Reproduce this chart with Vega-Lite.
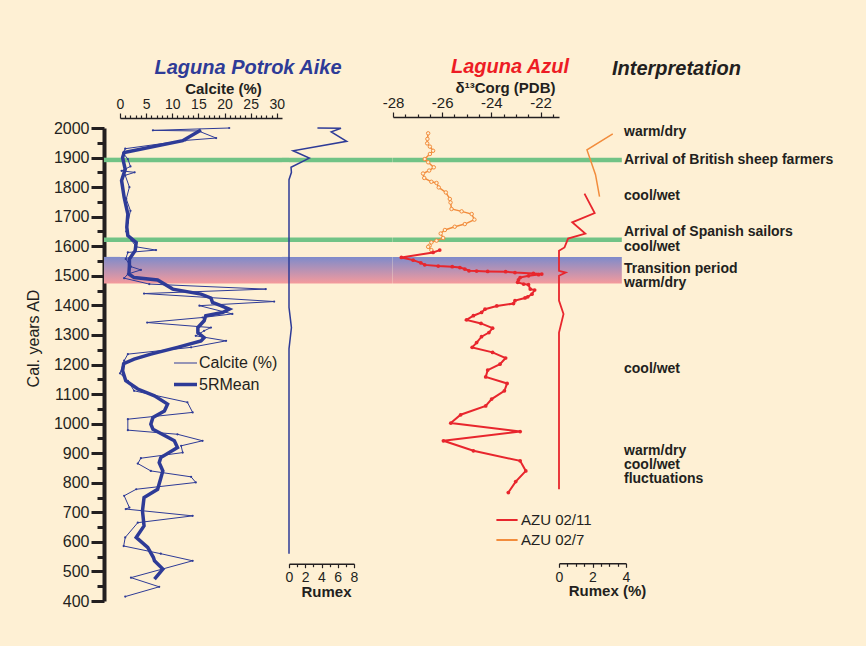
{
 "$schema": "https://vega.github.io/schema/vega-lite/v6.json",
 "background": "#FEF0D4",
 "padding": {"left": 25, "top": 56, "right": 12, "bottom": 44},
 "spacing": 0,
 "bounds": "flush",
 "config": {
  "font": "Liberation Sans",
  "view": {"stroke": null},
  "axis": {"labelColor": "#231F20", "titleColor": "#231F20", "domainColor": "#231F20", "tickColor": "#231F20", "grid": false, "labelFont": "Liberation Sans", "titleFont": "Liberation Sans", "labelOverlap": false},
  "title": {"font": "Liberation Sans", "fontSize": 20, "fontStyle": "italic", "fontWeight": "bold"},
  "legend": {"labelFont": "Liberation Sans"}
 },
 "datasets": {
  "events": [{"year": 1892}, {"year": 1622}],
  "band": [{"top": 1564, "bottom": 1474}],
  "calcite": [
   {"year": 2000, "pct": 20.9}, {"year": 1992, "pct": 6.3}, {"year": 1990, "pct": 15.0}, {"year": 1966, "pct": 18.4}, {"year": 1958, "pct": 12.5},
   {"year": 1930, "pct": 1.0}, {"year": 1915, "pct": 0.6}, {"year": 1895, "pct": 1.5}, {"year": 1870, "pct": 2.0}, {"year": 1855, "pct": 0.3},
   {"year": 1850, "pct": 2.8}, {"year": 1840, "pct": 1.0}, {"year": 1800, "pct": 1.8}, {"year": 1760, "pct": 1.2}, {"year": 1720, "pct": 2.0},
   {"year": 1680, "pct": 1.5}, {"year": 1650, "pct": 1.2}, {"year": 1620, "pct": 2.2}, {"year": 1598, "pct": 3.1}, {"year": 1587, "pct": 6.9},
   {"year": 1579, "pct": 1.5}, {"year": 1557, "pct": 1.1}, {"year": 1531, "pct": 2.1}, {"year": 1520, "pct": 4.0}, {"year": 1506, "pct": 1.5},
   {"year": 1492, "pct": 0.8}, {"year": 1472, "pct": 5.6}, {"year": 1455, "pct": 27.9}, {"year": 1440, "pct": 4.6}, {"year": 1413, "pct": 29.5},
   {"year": 1399, "pct": 15.2}, {"year": 1371, "pct": 21.5}, {"year": 1359, "pct": 15.8}, {"year": 1342, "pct": 5.2}, {"year": 1325, "pct": 17.4},
   {"year": 1314, "pct": 16.1}, {"year": 1297, "pct": 14.5}, {"year": 1280, "pct": 20.3}, {"year": 1258, "pct": 13.6}, {"year": 1235, "pct": 1.5},
   {"year": 1213, "pct": 0.8}, {"year": 1170, "pct": 0.0}, {"year": 1145, "pct": 1.5}, {"year": 1111, "pct": 2.7}, {"year": 1072, "pct": 12.9},
   {"year": 1038, "pct": 13.9}, {"year": 1015, "pct": 1.5}, {"year": 978, "pct": 1.5}, {"year": 964, "pct": 11.0}, {"year": 942, "pct": 15.8},
   {"year": 925, "pct": 11.7}, {"year": 902, "pct": 12.0}, {"year": 883, "pct": 4.0}, {"year": 865, "pct": 3.4}, {"year": 840, "pct": 5.9},
   {"year": 820, "pct": 13.6}, {"year": 801, "pct": 14.5}, {"year": 778, "pct": 3.1}, {"year": 756, "pct": 0.8}, {"year": 716, "pct": 1.8},
   {"year": 711, "pct": 1.1}, {"year": 688, "pct": 13.9}, {"year": 665, "pct": 3.4}, {"year": 615, "pct": 1.0}, {"year": 586, "pct": 0.7},
   {"year": 560, "pct": 7.8}, {"year": 536, "pct": 13.9}, {"year": 479, "pct": 2.1}, {"year": 448, "pct": 7.5}, {"year": 415, "pct": 1.0}
  ],
  "mean": [
   {"year": 1993, "pct": 15.5}, {"year": 1957, "pct": 12.0}, {"year": 1917, "pct": 0.8}, {"year": 1900, "pct": 0.5}, {"year": 1860, "pct": 1.0},
   {"year": 1822, "pct": 0.3}, {"year": 1765, "pct": 0.8}, {"year": 1709, "pct": 1.5}, {"year": 1664, "pct": 1.3}, {"year": 1636, "pct": 1.5},
   {"year": 1613, "pct": 3.1}, {"year": 1585, "pct": 2.9}, {"year": 1557, "pct": 1.8}, {"year": 1534, "pct": 1.8}, {"year": 1506, "pct": 1.7},
   {"year": 1494, "pct": 2.7}, {"year": 1486, "pct": 7.2}, {"year": 1455, "pct": 10.1}, {"year": 1438, "pct": 15.5}, {"year": 1425, "pct": 17.4},
   {"year": 1410, "pct": 17.7}, {"year": 1399, "pct": 19.3}, {"year": 1387, "pct": 20.9}, {"year": 1376, "pct": 19.6}, {"year": 1365, "pct": 16.4},
   {"year": 1348, "pct": 16.1}, {"year": 1325, "pct": 14.9}, {"year": 1308, "pct": 14.9}, {"year": 1291, "pct": 16.1}, {"year": 1280, "pct": 15.5},
   {"year": 1258, "pct": 11.0}, {"year": 1235, "pct": 5.9}, {"year": 1218, "pct": 2.7}, {"year": 1203, "pct": 0.7}, {"year": 1179, "pct": 0.5},
   {"year": 1145, "pct": 1.1}, {"year": 1117, "pct": 3.4}, {"year": 1094, "pct": 6.6}, {"year": 1066, "pct": 9.1}, {"year": 1043, "pct": 8.5},
   {"year": 1021, "pct": 6.3}, {"year": 998, "pct": 5.9}, {"year": 981, "pct": 6.3}, {"year": 942, "pct": 10.4}, {"year": 919, "pct": 11.0},
   {"year": 885, "pct": 7.8}, {"year": 868, "pct": 7.5}, {"year": 840, "pct": 8.2}, {"year": 778, "pct": 7.2}, {"year": 750, "pct": 4.6},
   {"year": 705, "pct": 4.3}, {"year": 654, "pct": 4.6}, {"year": 615, "pct": 3.1}, {"year": 581, "pct": 5.3}, {"year": 547, "pct": 6.4},
   {"year": 536, "pct": 6.6}, {"year": 508, "pct": 8.2}, {"year": 474, "pct": 6.6}
  ],
  "rumex": [
   {"year": 2000, "v": 3.5}, {"year": 1999, "v": 6.4}, {"year": 1987, "v": 5.2}, {"year": 1955, "v": 7.1}, {"year": 1923, "v": 0.5},
   {"year": 1898, "v": 2.5}, {"year": 1867, "v": 0.25}, {"year": 1850, "v": 0.3}, {"year": 1825, "v": 0}, {"year": 1393, "v": 0},
   {"year": 1325, "v": 0.3}, {"year": 1253, "v": 0}, {"year": 560, "v": 0}
  ],
  "azu11": [
   {"year": 1587, "d": -26.10}, {"year": 1579, "d": -26.37}, {"year": 1562, "d": -27.66}, {"year": 1553, "d": -27.18}, {"year": 1544, "d": -26.87},
   {"year": 1537, "d": -26.71}, {"year": 1533, "d": -26.16}, {"year": 1531, "d": -25.59}, {"year": 1528, "d": -25.28}, {"year": 1523, "d": -25.08},
   {"year": 1517, "d": -24.91}, {"year": 1516, "d": -24.60}, {"year": 1515, "d": -24.15}, {"year": 1514, "d": -23.42}, {"year": 1511, "d": -23.04},
   {"year": 1508, "d": -22.29}, {"year": 1506, "d": -21.95}, {"year": 1504, "d": -22.08}, {"year": 1500, "d": -22.49}, {"year": 1494, "d": -22.83},
   {"year": 1486, "d": -22.90}, {"year": 1478, "d": -22.93}, {"year": 1472, "d": -22.69}, {"year": 1470, "d": -22.49}, {"year": 1455, "d": -22.42},
   {"year": 1452, "d": -22.24}, {"year": 1438, "d": -22.35}, {"year": 1429, "d": -22.52}, {"year": 1425, "d": -22.63}, {"year": 1416, "d": -23.04},
   {"year": 1406, "d": -23.10}, {"year": 1398, "d": -23.78}, {"year": 1387, "d": -24.26}, {"year": 1376, "d": -24.40}, {"year": 1365, "d": -24.73},
   {"year": 1351, "d": -25.01}, {"year": 1339, "d": -24.42}, {"year": 1323, "d": -23.95}, {"year": 1308, "d": -24.10}, {"year": 1294, "d": -24.40},
   {"year": 1274, "d": -24.60}, {"year": 1258, "d": -24.78}, {"year": 1241, "d": -23.95}, {"year": 1222, "d": -23.42}, {"year": 1201, "d": -23.65},
   {"year": 1181, "d": -24.15}, {"year": 1158, "d": -24.23}, {"year": 1136, "d": -23.36}, {"year": 1111, "d": -23.47}, {"year": 1083, "d": -23.99},
   {"year": 1060, "d": -24.23}, {"year": 1030, "d": -25.25}, {"year": 1002, "d": -25.65}, {"year": 973, "d": -22.83}, {"year": 942, "d": -25.95},
   {"year": 908, "d": -24.73}, {"year": 874, "d": -22.83}, {"year": 840, "d": -22.60}, {"year": 804, "d": -23.01}, {"year": 767, "d": -23.31}
  ],
  "azu7": [
   {"year": 1982, "d": -26.57}, {"year": 1963, "d": -26.60}, {"year": 1948, "d": -26.61}, {"year": 1937, "d": -26.50}, {"year": 1923, "d": -26.37},
   {"year": 1912, "d": -26.50}, {"year": 1895, "d": -26.71}, {"year": 1884, "d": -26.57}, {"year": 1867, "d": -26.34}, {"year": 1856, "d": -26.53},
   {"year": 1846, "d": -26.78}, {"year": 1831, "d": -26.73}, {"year": 1818, "d": -26.44}, {"year": 1814, "d": -26.23}, {"year": 1799, "d": -26.14},
   {"year": 1782, "d": -25.85}, {"year": 1760, "d": -25.69}, {"year": 1748, "d": -25.66}, {"year": 1726, "d": -25.62}, {"year": 1718, "d": -25.21},
   {"year": 1709, "d": -24.80}, {"year": 1690, "d": -24.69}, {"year": 1675, "d": -25.08}, {"year": 1666, "d": -25.49}, {"year": 1655, "d": -25.89},
   {"year": 1643, "d": -26.06}, {"year": 1628, "d": -25.96}, {"year": 1619, "d": -26.23}, {"year": 1613, "d": -26.44}, {"year": 1602, "d": -26.51},
   {"year": 1598, "d": -26.57}, {"year": 1587, "d": -26.44}
  ],
  "rx7": [
   {"year": 1980, "v": 3.21}, {"year": 1926, "v": 1.67}, {"year": 1842, "v": 2.18}, {"year": 1768, "v": 2.42}
  ],
  "rx11": [
   {"year": 1778, "v": 1.52}, {"year": 1712, "v": 2.13}, {"year": 1681, "v": 0.79}, {"year": 1643, "v": 1.57}, {"year": 1626, "v": 0.54},
   {"year": 1596, "v": 0.33}, {"year": 1585, "v": 0.0}, {"year": 1517, "v": 0.0}, {"year": 1511, "v": 0.4}, {"year": 1500, "v": 0.0},
   {"year": 1416, "v": 0.0}, {"year": 1371, "v": 0.27}, {"year": 1308, "v": 0.0}, {"year": 778, "v": 0.0}
  ],
  "interp": [
   {"year": 1985, "label": "warm/dry"}, {"year": 1892, "label": "Arrival of British sheep farmers"}, {"year": 1771, "label": "cool/wet"},
   {"year": 1647, "label": "Arrival of Spanish sailors"}, {"year": 1599, "label": "cool/wet"}, {"year": 1523, "label": "Transition period"},
   {"year": 1474, "label": "warm/dry"}, {"year": 1186, "label": "cool/wet"}, {"year": 908, "label": "warm/dry"},
   {"year": 861, "label": "cool/wet"}, {"year": 812, "label": "fluctuations"}
  ]
 },
 "hconcat": [
  {
   "width": 16, "height": 473,
   "layer": [
    {"data": {"name": "band"}, "mark": {"type": "rect", "color": {"gradient": "linear", "x1": 0, "y1": 0, "x2": 0, "y2": 1, "stops": [{"offset": 0, "color": "#7E8BCB"}, {"offset": 1, "color": "#F59A9C"}]}},
     "encoding": {
      "y": {"field": "top", "type": "quantitative", "scale": {"domain": [400, 2000], "nice": false, "zero": false},
       "axis": {"orient": "left", "values": [400,450,500,550,600,650,700,750,800,850,900,950,1000,1050,1100,1150,1200,1250,1300,1350,1400,1450,1500,1550,1600,1650,1700,1750,1800,1850,1900,1950,2000],
        "labelExpr": "datum.value % 100 === 0 ? '' + datum.value : ''",
        "tickSize": {"condition": {"test": "datum.value % 100 === 0", "value": 13}, "value": 7},
        "tickWidth": 3, "domainWidth": 4, "labelFontSize": 16, "labelPadding": 2, "labelOverlap": false, "labelFlush": false, "labelBaseline": "middle",
        "title": "Cal. years AD", "titleFontSize": 16, "titleFontWeight": "normal", "titleX": -70.5, "titleY": 210, "titleBaseline": "middle", "titleAngle": -90}},
      "y2": {"field": "bottom"}
     }},
    {"data": {"name": "events"}, "mark": {"type": "rule", "color": "#71C386", "strokeWidth": 4.5},
     "encoding": {"y": {"field": "year", "type": "quantitative", "scale": {"domain": [400, 2000], "nice": false, "zero": false},
       "axis": {"orient": "left", "values": [400,450,500,550,600,650,700,750,800,850,900,950,1000,1050,1100,1150,1200,1250,1300,1350,1400,1450,1500,1550,1600,1650,1700,1750,1800,1850,1900,1950,2000],
        "labelExpr": "datum.value % 100 === 0 ? '' + datum.value : ''",
        "tickSize": {"condition": {"test": "datum.value % 100 === 0", "value": 13}, "value": 7},
        "tickWidth": 3, "domainWidth": 4, "labelFontSize": 16, "labelPadding": 2, "labelOverlap": false, "labelFlush": false, "labelBaseline": "middle",
        "title": "Cal. years AD", "titleFontSize": 16, "titleFontWeight": "normal", "titleX": -70.5, "titleY": 210, "titleBaseline": "middle", "titleAngle": -90}}}}
   ]
  },
  {
   "width": 162, "height": 473,
   "title": {"text": "Laguna Potrok Aike", "color": "#2E3B97", "anchor": "middle", "dx": 47, "offset": 3.5},
   "layer": [
    {"data": {"name": "band"}, "mark": {"type": "rect", "color": {"gradient": "linear", "x1": 0, "y1": 0, "x2": 0, "y2": 1, "stops": [{"offset": 0, "color": "#7E8BCB"}, {"offset": 1, "color": "#F59A9C"}]}},
     "encoding": {"y": {"field": "top", "type": "quantitative", "scale": {"domain": [400, 2000], "nice": false, "zero": false}, "axis": null}, "y2": {"field": "bottom"}}},
    {"data": {"name": "events"}, "mark": {"type": "rule", "color": "#71C386", "strokeWidth": 4.5},
     "encoding": {"y": {"field": "year", "type": "quantitative", "scale": {"domain": [400, 2000], "nice": false, "zero": false}, "axis": null}}},
    {"data": {"name": "calcite"}, "mark": {"type": "line", "color": "#2E3B97", "point": {"filled": true, "size": 5, "color": "#2E3B97"}},
     "encoding": {
      "x": {"field": "pct", "type": "quantitative", "scale": {"domain": [0, 31], "nice": false, "zero": false},
       "axis": {"orient": "top", "offset": 10, "values": [0,1,2,3,4,5,6,7,8,9,10,11,12,13,14,15,16,17,18,19,20,21,22,23,24,25,26,27,28,29,30],
        "labelExpr": "datum.value % 5 === 0 ? '' + datum.value : ''",
        "tickSize": {"condition": {"test": "datum.value % 5 === 0", "value": 5}, "value": 3},
        "tickWidth": 1.2, "domainWidth": 1.5, "labelFontSize": 14, "labelPadding": 2, "labelOverlap": false, "labelFlush": false,
        "title": "Calcite (%)", "titleFontSize": 15, "titleFontWeight": "bold", "titleX": 103, "titleY": -25, "titleBaseline": "alphabetic"}},
      "y": {"field": "year", "type": "quantitative", "scale": {"domain": [400, 2000], "nice": false, "zero": false}, "axis": null},
      "order": {"field": "year", "sort": "descending"},
      "strokeWidth": {"datum": "Calcite (%)", "type": "nominal", "scale": {"domain": ["Calcite (%)", "5RMean"], "range": [1, 3.5]},
       "legend": {"orient": "none", "legendX": 68, "legendY": 223, "title": null, "symbolType": "stroke", "symbolStrokeColor": "#2E3B97", "symbolSize": 529, "labelFontSize": 16, "labelColor": "#231F20", "rowPadding": -6, "padding": 0, "labelOffset": 0,
        "encode": {"symbols": {"update": {"stroke": {"value": "#2E3B97"}, "shape": {"value": "stroke"}, "opacity": {"value": 1}}}}}}
     }},
    {"data": {"name": "mean"}, "mark": {"type": "line", "color": "#2E3B97"},
     "encoding": {
      "x": {"field": "pct", "type": "quantitative", "scale": {"domain": [0, 31], "nice": false, "zero": false},
       "axis": {"orient": "top", "offset": 10, "values": [0,1,2,3,4,5,6,7,8,9,10,11,12,13,14,15,16,17,18,19,20,21,22,23,24,25,26,27,28,29,30],
        "labelExpr": "datum.value % 5 === 0 ? '' + datum.value : ''",
        "tickSize": {"condition": {"test": "datum.value % 5 === 0", "value": 5}, "value": 3},
        "tickWidth": 1.2, "domainWidth": 1.5, "labelFontSize": 14, "labelPadding": 2, "labelOverlap": false, "labelFlush": false,
        "title": "Calcite (%)", "titleFontSize": 15, "titleFontWeight": "bold", "titleX": 103, "titleY": -25, "titleBaseline": "alphabetic"}},
      "y": {"field": "year", "type": "quantitative", "scale": {"domain": [400, 2000], "nice": false, "zero": false}, "axis": null},
      "order": {"field": "year", "sort": "descending"},
      "strokeWidth": {"datum": "5RMean", "type": "nominal", "scale": {"domain": ["Calcite (%)", "5RMean"], "range": [1, 3.5]}}
     }}
   ]
  },
  {
   "width": 7, "height": 473,
   "layer": [
    {"data": {"name": "band"}, "mark": {"type": "rect", "color": {"gradient": "linear", "x1": 0, "y1": 0, "x2": 0, "y2": 1, "stops": [{"offset": 0, "color": "#7E8BCB"}, {"offset": 1, "color": "#F59A9C"}]}},
     "encoding": {"y": {"field": "top", "type": "quantitative", "scale": {"domain": [400, 2000], "nice": false, "zero": false}, "axis": null}, "y2": {"field": "bottom"}}},
    {"data": {"name": "events"}, "mark": {"type": "rule", "color": "#71C386", "strokeWidth": 4.5},
     "encoding": {"y": {"field": "year", "type": "quantitative", "scale": {"domain": [400, 2000], "nice": false, "zero": false}, "axis": null}}}
   ]
  },
  {
   "width": 65, "height": 473,
   "layer": [
    {"data": {"name": "band"}, "mark": {"type": "rect", "color": {"gradient": "linear", "x1": 0, "y1": 0, "x2": 0, "y2": 1, "stops": [{"offset": 0, "color": "#7E8BCB"}, {"offset": 1, "color": "#F59A9C"}]}},
     "encoding": {"y": {"field": "top", "type": "quantitative", "scale": {"domain": [400, 2000], "nice": false, "zero": false}, "axis": null}, "y2": {"field": "bottom"}}},
    {"data": {"name": "events"}, "mark": {"type": "rule", "color": "#71C386", "strokeWidth": 4.5},
     "encoding": {"y": {"field": "year", "type": "quantitative", "scale": {"domain": [400, 2000], "nice": false, "zero": false}, "axis": null}}},
    {"data": {"name": "rumex"}, "mark": {"type": "line", "color": "#2E3B97", "strokeWidth": 1.5},
     "encoding": {
      "x": {"field": "v", "type": "quantitative", "scale": {"domain": [0, 8], "nice": false, "zero": false},
       "axis": {"orient": "bottom", "offset": -37.3, "values": [0,1,2,3,4,5,6,7,8],
        "labelExpr": "datum.value % 2 === 0 ? '' + datum.value : ''",
        "tickSize": {"condition": {"test": "datum.value % 2 === 0", "value": 4}, "value": 3},
        "tickWidth": 1.2, "domainWidth": 1.5, "labelFontSize": 14, "labelPadding": 3, "labelOverlap": false, "labelFlush": false,
        "title": "Rumex", "titleFontSize": 15, "titleFontWeight": "bold", "titleX": 37, "titleY": 33, "titleBaseline": "alphabetic"}},
      "y": {"field": "year", "type": "quantitative", "scale": {"domain": [400, 2000], "nice": false, "zero": false}, "axis": null},
      "order": {"field": "year", "sort": "descending"}
     }}
   ]
  },
  {
   "width": 38.7, "height": 473,
   "layer": [
    {"data": {"name": "band"}, "mark": {"type": "rect", "color": {"gradient": "linear", "x1": 0, "y1": 0, "x2": 0, "y2": 1, "stops": [{"offset": 0, "color": "#7E8BCB"}, {"offset": 1, "color": "#F59A9C"}]}},
     "encoding": {"y": {"field": "top", "type": "quantitative", "scale": {"domain": [400, 2000], "nice": false, "zero": false}, "axis": null}, "y2": {"field": "bottom"}}},
    {"data": {"name": "events"}, "mark": {"type": "rule", "color": "#71C386", "strokeWidth": 4.5},
     "encoding": {"y": {"field": "year", "type": "quantitative", "scale": {"domain": [400, 2000], "nice": false, "zero": false}, "axis": null}}}
   ]
  },
  {
   "width": 166, "height": 473,
   "title": {"text": "Laguna Azul", "color": "#ED1C24", "anchor": "middle", "dx": 34, "offset": 3.5},
   "layer": [
    {"data": {"name": "band"}, "mark": {"type": "rect", "color": {"gradient": "linear", "x1": 0, "y1": 0, "x2": 0, "y2": 1, "stops": [{"offset": 0, "color": "#7E8BCB"}, {"offset": 1, "color": "#F59A9C"}]}},
     "encoding": {"y": {"field": "top", "type": "quantitative", "scale": {"domain": [400, 2000], "nice": false, "zero": false}, "axis": null}, "y2": {"field": "bottom"}}},
    {"data": {"name": "events"}, "mark": {"type": "rule", "color": "#71C386", "strokeWidth": 4.5},
     "encoding": {"y": {"field": "year", "type": "quantitative", "scale": {"domain": [400, 2000], "nice": false, "zero": false}, "axis": null}}},
    {"data": {"name": "azu7"}, "mark": {"type": "line", "strokeWidth": 1.5, "point": {"filled": false, "fill": "#FEF0D4", "size": 12, "strokeWidth": 1}},
     "encoding": {
      "x": {"field": "d", "type": "quantitative", "scale": {"domain": [-28, -21.25], "nice": false, "zero": false},
       "axis": {"orient": "top", "offset": 11, "values": [-28,-27.5,-27,-26.5,-26,-25.5,-25,-24.5,-24,-23.5,-23,-22.5,-22,-21.5],
        "labelExpr": "datum.value % 2 === 0 ? '' + datum.value : ''",
        "tickSize": {"condition": {"test": "datum.value % 2 === 0", "value": 5}, "value": 3},
        "tickWidth": 1.2, "domainWidth": 1.5, "labelFontSize": 15, "labelPadding": 2, "labelOverlap": false, "labelFlush": false,
        "title": "δ¹³Corg (PDB)", "titleFontSize": 15, "titleFontWeight": "bold", "titleX": 112, "titleY": -25, "titleBaseline": "alphabetic"}},
      "y": {"field": "year", "type": "quantitative", "scale": {"domain": [400, 2000], "nice": false, "zero": false}, "axis": null},
      "order": {"field": "year", "sort": "descending"},
      "color": {"datum": "AZU 02/7", "type": "nominal", "scale": {"domain": ["AZU 02/11", "AZU 02/7"], "range": ["#E8262D", "#F28C3C"]},
       "legend": {"orient": "none", "legendX": 391, "legendY": 380, "title": null, "symbolType": "stroke", "symbolSize": 450, "symbolStrokeWidth": 2, "labelFontSize": 15, "labelColor": "#231F20", "rowPadding": -7, "padding": 0, "labelOffset": 2}}
     }},
    {"data": {"name": "azu11"}, "mark": {"type": "line", "strokeWidth": 2, "point": {"filled": true, "size": 14}},
     "encoding": {
      "x": {"field": "d", "type": "quantitative", "scale": {"domain": [-28, -21.25], "nice": false, "zero": false},
       "axis": {"orient": "top", "offset": 11, "values": [-28,-27.5,-27,-26.5,-26,-25.5,-25,-24.5,-24,-23.5,-23,-22.5,-22,-21.5],
        "labelExpr": "datum.value % 2 === 0 ? '' + datum.value : ''",
        "tickSize": {"condition": {"test": "datum.value % 2 === 0", "value": 5}, "value": 3},
        "tickWidth": 1.2, "domainWidth": 1.5, "labelFontSize": 15, "labelPadding": 2, "labelOverlap": false, "labelFlush": false,
        "title": "δ¹³Corg (PDB)", "titleFontSize": 15, "titleFontWeight": "bold", "titleX": 112, "titleY": -25, "titleBaseline": "alphabetic"}},
      "y": {"field": "year", "type": "quantitative", "scale": {"domain": [400, 2000], "nice": false, "zero": false}, "axis": null},
      "order": {"field": "year", "sort": "descending"},
      "color": {"datum": "AZU 02/11", "type": "nominal", "scale": {"domain": ["AZU 02/11", "AZU 02/7"], "range": ["#E8262D", "#F28C3C"]}}
     }}
   ]
  },
  {
   "width": 67, "height": 473,
   "layer": [
    {"data": {"name": "band"}, "mark": {"type": "rect", "color": {"gradient": "linear", "x1": 0, "y1": 0, "x2": 0, "y2": 1, "stops": [{"offset": 0, "color": "#7E8BCB"}, {"offset": 1, "color": "#F59A9C"}]}},
     "encoding": {
      "x": {"datum": 0, "type": "quantitative", "scale": {"domain": [0, 4], "nice": false, "zero": false},
       "axis": {"orient": "bottom", "offset": -37.7, "values": [0,0.5,1,1.5,2,2.5,3,3.5,4],
        "labelExpr": "datum.value % 2 === 0 ? '' + datum.value : ''",
        "tickSize": {"condition": {"test": "datum.value % 2 === 0", "value": 4}, "value": 3},
        "tickWidth": 1.2, "domainWidth": 1.5, "labelFontSize": 14, "labelPadding": 3, "labelOverlap": false, "labelFlush": false,
        "title": "Rumex (%)", "titleFontSize": 15, "titleFontWeight": "bold", "titleX": 48, "titleY": 32, "titleBaseline": "alphabetic"}},
      "x2": {"datum": 3.75},
      "y": {"field": "top", "type": "quantitative", "scale": {"domain": [400, 2000], "nice": false, "zero": false}, "axis": null}, "y2": {"field": "bottom"}}},
    {"data": {"name": "events"}, "mark": {"type": "rule", "color": "#71C386", "strokeWidth": 4.5},
     "encoding": {
      "x": {"datum": 0, "type": "quantitative", "scale": {"domain": [0, 4], "nice": false, "zero": false},
       "axis": {"orient": "bottom", "offset": -37.7, "values": [0,0.5,1,1.5,2,2.5,3,3.5,4],
        "labelExpr": "datum.value % 2 === 0 ? '' + datum.value : ''",
        "tickSize": {"condition": {"test": "datum.value % 2 === 0", "value": 4}, "value": 3},
        "tickWidth": 1.2, "domainWidth": 1.5, "labelFontSize": 14, "labelPadding": 3, "labelOverlap": false, "labelFlush": false,
        "title": "Rumex (%)", "titleFontSize": 15, "titleFontWeight": "bold", "titleX": 48, "titleY": 32, "titleBaseline": "alphabetic"}},
      "x2": {"datum": 3.75},
      "y": {"field": "year", "type": "quantitative", "scale": {"domain": [400, 2000], "nice": false, "zero": false}, "axis": null}}},
    {"data": {"name": "rx7"}, "mark": {"type": "line", "strokeWidth": 1.5},
     "encoding": {
      "x": {"field": "v", "type": "quantitative", "scale": {"domain": [0, 4], "nice": false, "zero": false},
       "axis": {"orient": "bottom", "offset": -37.7, "values": [0,0.5,1,1.5,2,2.5,3,3.5,4],
        "labelExpr": "datum.value % 2 === 0 ? '' + datum.value : ''",
        "tickSize": {"condition": {"test": "datum.value % 2 === 0", "value": 4}, "value": 3},
        "tickWidth": 1.2, "domainWidth": 1.5, "labelFontSize": 14, "labelPadding": 3, "labelOverlap": false, "labelFlush": false,
        "title": "Rumex (%)", "titleFontSize": 15, "titleFontWeight": "bold", "titleX": 48, "titleY": 32, "titleBaseline": "alphabetic"}},
      "y": {"field": "year", "type": "quantitative", "scale": {"domain": [400, 2000], "nice": false, "zero": false}, "axis": null},
      "order": {"field": "year", "sort": "descending"},
      "color": {"datum": "AZU 02/7", "type": "nominal", "scale": {"domain": ["AZU 02/11", "AZU 02/7"], "range": ["#E8262D", "#F28C3C"]}, "legend": null}
     }},
    {"data": {"name": "rx11"}, "mark": {"type": "line", "strokeWidth": 1.8},
     "encoding": {
      "x": {"field": "v", "type": "quantitative", "scale": {"domain": [0, 4], "nice": false, "zero": false},
       "axis": {"orient": "bottom", "offset": -37.7, "values": [0,0.5,1,1.5,2,2.5,3,3.5,4],
        "labelExpr": "datum.value % 2 === 0 ? '' + datum.value : ''",
        "tickSize": {"condition": {"test": "datum.value % 2 === 0", "value": 4}, "value": 3},
        "tickWidth": 1.2, "domainWidth": 1.5, "labelFontSize": 14, "labelPadding": 3, "labelOverlap": false, "labelFlush": false,
        "title": "Rumex (%)", "titleFontSize": 15, "titleFontWeight": "bold", "titleX": 48, "titleY": 32, "titleBaseline": "alphabetic"}},
      "y": {"field": "year", "type": "quantitative", "scale": {"domain": [400, 2000], "nice": false, "zero": false}, "axis": null},
      "order": {"field": "year", "sort": "descending"},
      "color": {"datum": "AZU 02/11", "type": "nominal", "scale": {"domain": ["AZU 02/11", "AZU 02/7"], "range": ["#E8262D", "#F28C3C"]}, "legend": null}
     }}
   ]
  },
  {
   "width": 233, "height": 473,
   "title": {"text": "Interpretation", "color": "#231F20", "anchor": "start", "dx": -12, "offset": 46},
   "layer": [
    {"data": {"name": "interp"}, "mark": {"type": "text", "align": "left", "baseline": "middle", "fontSize": 14, "fontWeight": "bold", "color": "#231F20", "dx": -2},
     "encoding": {
      "x": {"datum": 0, "type": "quantitative", "scale": {"domain": [0, 1]}, "axis": null},
      "y": {"field": "year", "type": "quantitative", "scale": {"domain": [400, 2000], "nice": false, "zero": false}, "axis": null},
      "text": {"field": "label"}
     }}
   ]
  }
 ]
}
